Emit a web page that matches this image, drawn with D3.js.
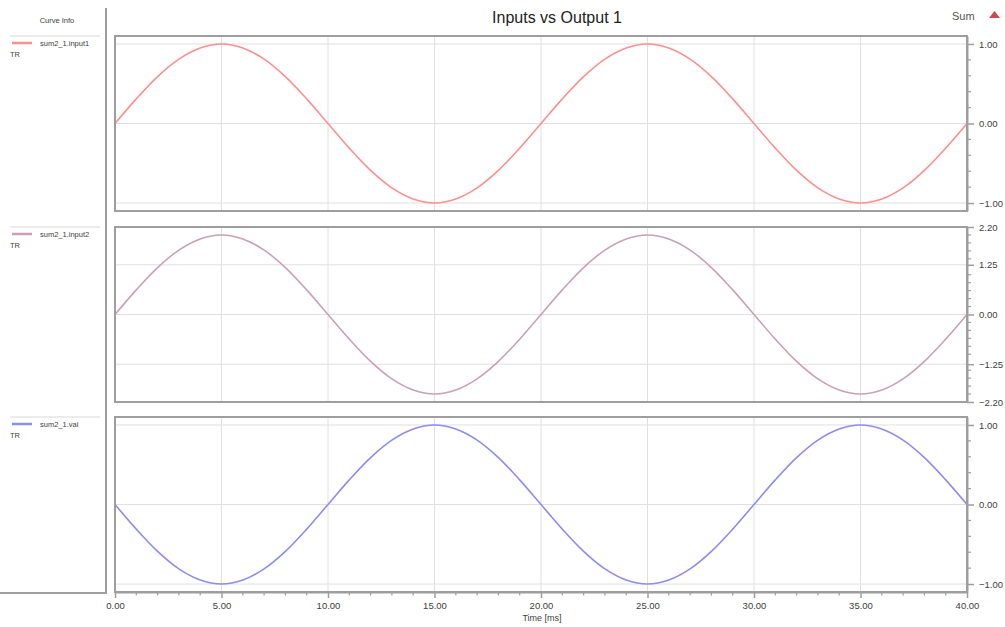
<!DOCTYPE html>
<html><head><meta charset="utf-8">
<script src="https://cdn.jsdelivr.net/npm/d3@7"></script>
<style>
body{margin:0;background:#fff;}
text{font-family:"Liberation Sans",Arial,Helvetica,sans-serif;}
</style>
</head><body>
<svg id="chart" width="1005" height="627"></svg>
<script>
const chartTitle = "Inputs vs Output 1";
const xLabel = "Time [ms]";
const sideTitle = "Curve Info";
const cornerLabel = "Sum";
const seriesNames = ["sum2_1.input1", "sum2_1.input2", "sum2_1.val"];
const seriesColors = ["#ff8e8e", "#c9a1b6", "#8c8cf2"];

const time = [0,1,2,3,4,5,6,7,8,9,10,11,12,13,14,15,16,17,18,19,20,
  21,22,23,24,25,26,27,28,29,30,31,32,33,34,35,36,37,38,39,40];
const input1 = [0,0.31,0.59,0.81,0.95,1.00,0.95,0.81,0.59,0.31,0,
  -0.31,-0.59,-0.81,-0.95,-1.00,-0.95,-0.81,-0.59,-0.31,0,
  0.31,0.59,0.81,0.95,1.00,0.95,0.81,0.59,0.31,0,
  -0.31,-0.59,-0.81,-0.95,-1.00,-0.95,-0.81,-0.59,-0.31,0];
const input2 = [0,0.62,1.18,1.62,1.90,2.00,1.90,1.62,1.18,0.62,0,
  -0.62,-1.18,-1.62,-1.90,-2.00,-1.90,-1.62,-1.18,-0.62,0,
  0.62,1.18,1.62,1.90,2.00,1.90,1.62,1.18,0.62,0,
  -0.62,-1.18,-1.62,-1.90,-2.00,-1.90,-1.62,-1.18,-0.62,0];
const val = [0,-0.31,-0.59,-0.81,-0.95,-1.00,-0.95,-0.81,-0.59,-0.31,0,
  0.31,0.59,0.81,0.95,1.00,0.95,0.81,0.59,0.31,0,
  -0.31,-0.59,-0.81,-0.95,-1.00,-0.95,-0.81,-0.59,-0.31,0,
  0.31,0.59,0.81,0.95,1.00,0.95,0.81,0.59,0.31,0];

const xTicks = [0,5,10,15,20,25,30,35,40];
const xMinorTicks = [1,2,3,4,6,7,8,9,11,12,13,14,16,17,18,19,21,22,23,24,26,27,28,29,31,32,33,34,36,37,38,39];
const yTicks1 = [-1,0,1];
const yTicks2 = [-2.2,-1.25,0,1.25,2.2];
const yTicks3 = [-1,0,1];
const yGrid1 = [-1,0,1];
const yGrid2 = [-1.25,0,1.25];
const yGrid3 = [-1,0,1];
const yDomain1 = [-1.1,1.1];
const yDomain2 = [-2.2,2.2];
const yDomain3 = [-1.1,1.1];
const yMinor1 = [-0.8,-0.6,-0.4,-0.2,0.2,0.4,0.6,0.8];
const yMinor2 = [-2.0,-1.8,-1.6,-1.4,-1.0,-0.8,-0.6,-0.4,-0.2,0.2,0.4,0.6,0.8,1.0,1.4,1.6,1.8,2.0];
const yMinor3 = [-0.8,-0.6,-0.4,-0.2,0.2,0.4,0.6,0.8];

const series = [input1, input2, val];
const yDomains = [yDomain1, yDomain2, yDomain3];
const yTicksAll = [yTicks1, yTicks2, yTicks3];
const yGrids = [yGrid1, yGrid2, yGrid3];
const yMinors = [yMinor1, yMinor2, yMinor3];

const svg = d3.select("#chart");
const L = 115, R = 967;
const panelTops = [36, 227, 417];
const panelH = 175;
const frameCol = "#9e9e9e";
const gridCol = "#e0e0e0";
const textCol = "#404040";

const x = d3.scaleLinear().domain([0, 40]).range([L, R]);
const fmt = d3.format(".2f");

// Title
svg.append("text").attr("x", 557).attr("y", 23).attr("text-anchor", "middle")
  .attr("font-size", 16).attr("fill", "#222").text(chartTitle);
svg.append("text").attr("x", 952).attr("y", 20).attr("font-size", 11)
  .attr("fill", "#555").text(cornerLabel);
svg.append("path").attr("d", "M989,18 L994.5,11 L1000,18 Z").attr("fill", "#cc4b4b");

// Left info panel
svg.append("text").attr("x", 57).attr("y", 23).attr("text-anchor", "middle")
  .attr("font-size", 7.5).attr("fill", textCol).text(sideTitle);
svg.append("path").attr("d", "M106,8 L106,593 L0,593").attr("fill", "none")
  .attr("stroke", frameCol).attr("stroke-width", 2);

series.forEach((data, i) => {
  const top = panelTops[i];
  const y = d3.scaleLinear().domain(yDomains[i]).range([top + panelH, top]);
  const g = svg.append("g");

  // legend
  svg.append("line").attr("x1", 10).attr("x2", 100).attr("y1", top).attr("y2", top)
    .attr("stroke", "#d8d8d8").attr("stroke-width", 1);
  svg.append("line").attr("x1", 12).attr("x2", 32).attr("y1", top + 7).attr("y2", top + 7)
    .attr("stroke", seriesColors[i]).attr("stroke-width", 2.5);
  svg.append("text").attr("x", 40).attr("y", top + 10).attr("font-size", 7.5)
    .attr("fill", textCol).text(seriesNames[i]);
  svg.append("text").attr("x", 10).attr("y", top + 21).attr("font-size", 7.5)
    .attr("fill", textCol).text("TR");

  // gridlines
  g.selectAll(".vg").data(xTicks.slice(1, -1)).join("line")
    .attr("x1", d => x(d)).attr("x2", d => x(d)).attr("y1", top).attr("y2", top + panelH)
    .attr("stroke", gridCol).attr("stroke-width", 1);
  g.selectAll(".hg").data(yGrids[i]).join("line")
    .attr("x1", L).attr("x2", R).attr("y1", d => y(d)).attr("y2", d => y(d))
    .attr("stroke", gridCol).attr("stroke-width", 1);

  // curve
  const line = d3.line().x((d, k) => x(time[k])).y(d => y(d)).curve(d3.curveCatmullRom);
  g.append("path").datum(data).attr("d", line).attr("fill", "none")
    .attr("stroke", seriesColors[i]).attr("stroke-width", 1.6);

  // frame
  g.append("rect").attr("x", L).attr("y", top).attr("width", R - L).attr("height", panelH)
    .attr("fill", "none").attr("stroke", frameCol).attr("stroke-width", 2);

  // right axis
  const ax = svg.append("g").attr("transform", `translate(${R},0)`)
    .call(d3.axisRight(y).tickValues(yTicksAll[i]).tickFormat(fmt).tickSize(7).tickPadding(5).tickSizeOuter(0));
  ax.select(".domain").attr("stroke", frameCol).attr("stroke-width", 2);
  ax.selectAll(".tick line").attr("stroke", frameCol).attr("stroke-width", 1.5);
  ax.selectAll(".tick text").attr("font-size", 9.5).attr("fill", textCol)
    .attr("font-family", "'Liberation Sans',Arial,sans-serif");
  svg.append("g").selectAll("line").data(yMinors[i]).join("line")
    .attr("x1", R).attr("x2", R + 4).attr("y1", d => y(d)).attr("y2", d => y(d))
    .attr("stroke", frameCol).attr("stroke-width", 1.2);
});

// bottom axis
const axisY = 592;
const bx = svg.append("g").attr("transform", `translate(0,${axisY})`)
  .call(d3.axisBottom(x).tickValues(xTicks).tickFormat(fmt).tickSize(6).tickPadding(4).tickSizeOuter(0));
bx.select(".domain").attr("stroke", frameCol).attr("stroke-width", 2);
bx.selectAll(".tick line").attr("stroke", frameCol).attr("stroke-width", 1.5);
bx.selectAll(".tick text").attr("font-size", 9.5).attr("fill", textCol)
  .attr("font-family", "'Liberation Sans',Arial,sans-serif");
svg.append("g").selectAll("line").data(xMinorTicks).join("line")
  .attr("x1", d => x(d)).attr("x2", d => x(d)).attr("y1", axisY).attr("y2", axisY + 3.5)
  .attr("stroke", frameCol).attr("stroke-width", 1.2);
svg.append("text").attr("x", 542).attr("y", 621).attr("text-anchor", "middle")
  .attr("font-size", 9).attr("fill", textCol).text(xLabel);
</script>
</body></html>
